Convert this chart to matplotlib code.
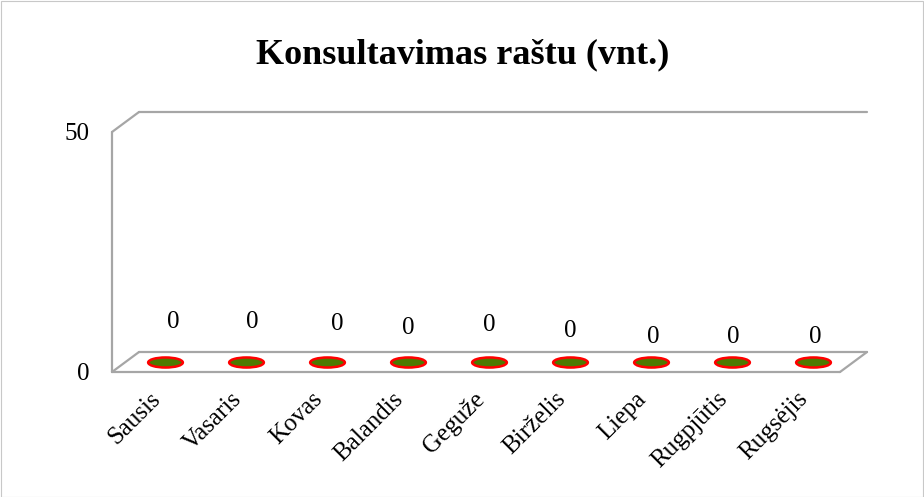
import matplotlib
matplotlib.use("Agg")
import matplotlib.pyplot as plt
import matplotlib.transforms as mtransforms
from matplotlib.path import Path
from matplotlib.patches import Rectangle
import numpy as np

# ---- data ----
categories = ["Sausis", "Vasaris", "Kovas", "Balandis", "Geguže",
              "Birželis", "Liepa", "Rugpjūtis", "Rugsėjis"]
values = [0, 0, 0, 0, 0, 0, 0, 0, 0]
y_ticks = [0, 50]
title = "Konsultavimas raštu (vnt.)"

# label offsets (px) mimicking the original placement
label_dy = [40, 40, 38, 34, 37, 31, 25, 25, 25]
label_dx = [8, 6, 10, 0, 0, 0, 2, 2, 3]

plt.rcParams['font.family'] = ['Liberation Serif', 'DejaVu Serif']

W, H = 924, 497
fig = plt.figure(figsize=(W / 100, H / 100), dpi=100)
fig.patches.append(Rectangle((0.5 / W, 0.5 / H), 1 - 1.5 / W, 1 - 1.5 / H,
                             transform=fig.transFigure, fill=False,
                             edgecolor="#c8c8c8", linewidth=0.8))

x0, x1 = 112, 840
y0, y1 = 372, 132
ax = fig.add_axes([x0 / W, (H - y0) / H, (x1 - x0) / W, (y0 - y1) / H])
ax.set_xlim(-0.5, len(categories) - 0.5)
ax.set_ylim(0, 50)
for s in ax.spines.values():
    s.set_visible(False)
ax.set_facecolor("none")

# 3D-like wall and floor outline
dx = 27 / (x1 - x0)
dy = 20 / (y0 - y1)
lc = "#a6a6a6"
lw = 1.6
segs = [
    [(0, 0), (0, 1)],
    [(0, 1), (dx, 1 + dy)],
    [(dx, 1 + dy), (1 + dx, 1 + dy)],
    [(0, 0), (dx, dy)],
    [(dx, dy), (1 + dx, dy)],
    [(1 + dx, dy), (1, 0)],
    [(1, 0), (0, 0)],
]
for seg in segs:
    xs, ys = zip(*seg)
    ax.plot(xs, ys, color=lc, lw=lw, transform=ax.transAxes, clip_on=False,
            solid_capstyle="round")

# ellipse markers (zero-height bars)
circ = Path.unit_circle()
ell = Path(circ.vertices * np.array([1.0, 0.29]), circ.codes)
off = mtransforms.offset_copy(ax.transData, fig=fig, x=13, y=10, units="dots")
xpos = np.arange(len(categories))
ax.plot(xpos, values, linestyle="none", marker=ell, markersize=25,
        markerfacecolor="#4e7a00", markeredgecolor="#ff0000",
        markeredgewidth=1.8, transform=off, clip_on=False)

# value labels
for i, v in enumerate(values):
    ax.annotate(f"{v}", (xpos[i], v), xytext=(13 + label_dx[i], 10 + label_dy[i]),
                textcoords="offset pixels", ha="center", va="center",
                fontsize=18, color="black", annotation_clip=False)

ax.set_yticks(y_ticks)
ax.set_yticklabels([str(t) for t in y_ticks], fontsize=18)
ax.tick_params(axis="y", length=0, pad=16.5)
ax.set_xticks(xpos)
ax.set_xticklabels(categories, rotation=45, ha="right", va="center",
                   rotation_mode="anchor", fontsize=18)
ax.tick_params(axis="x", length=0, pad=17)
for lab in ax.get_xticklabels():
    lab.set_transform(lab.get_transform() + mtransforms.ScaledTranslation(5 / 100, 0, fig.dpi_scale_trans))

fig.text(463 / W, 1 - 55 / H, title, ha="center", va="center",
         fontsize=26, fontweight="bold")

fig.savefig("out.png", dpi=100)
